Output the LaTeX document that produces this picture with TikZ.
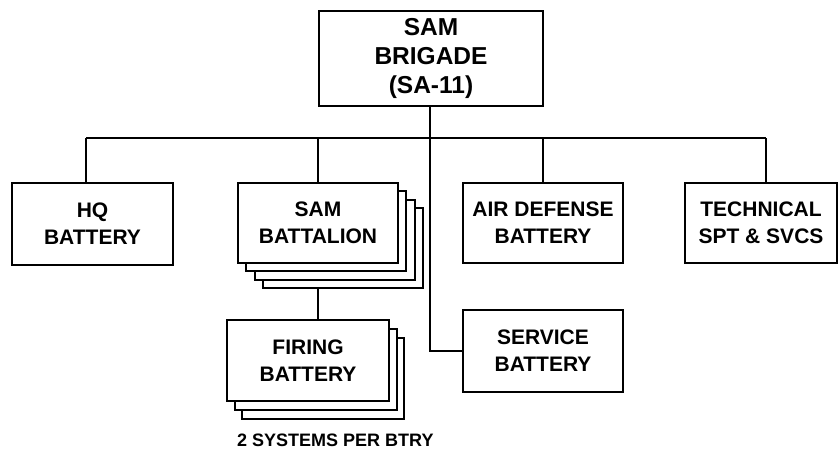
\documentclass[tikz,border=0pt]{standalone}
\usepackage{fontspec}
\setmainfont{Liberation Sans}
\begin{document}
\begin{tikzpicture}[x=1pt,y=-1pt,
  box/.style={draw, fill=white, line width=1.8pt, inner sep=0pt, align=center,
    font=\bfseries\fontsize{21}{27}\selectfont},
  bigbox/.style={box, font=\bfseries\fontsize{24.5}{29}\selectfont},
  link/.style={draw, line width=1.8pt}]
\useasboundingbox (0,0) rectangle (838,450);

% top
\node[bigbox, minimum width=224pt, minimum height=95pt] (top) at (431,58.5) {SAM\\BRIGADE\\(SA-11)};

% first row
\node[box, minimum width=161pt, minimum height=82pt] (hq) at (92.5,224) {HQ\\BATTERY};
\node[box, minimum width=160pt, minimum height=80pt] (bat3) at (343,248) {};
\node[box, minimum width=160pt, minimum height=80pt] (bat2) at (335,240) {};
\node[box, minimum width=160pt, minimum height=80pt] (bat1) at (326,231) {};
\node[box, minimum width=160pt, minimum height=80pt] (bat) at (318,223) {SAM\\BATTALION};
\node[box, minimum width=160pt, minimum height=80pt] (ad) at (543,223) {AIR DEFENSE\\BATTERY};
\node[box, minimum width=152pt, minimum height=80pt] (tech) at (761,223) {TECHNICAL\\SPT \& SVCS};

% second row
\node[box, minimum width=162pt, minimum height=81pt] (fire2) at (323,378.5) {};
\node[box, minimum width=162pt, minimum height=81pt] (fire1) at (316,369.5) {};
\node[box, minimum width=162pt, minimum height=81pt] (fire) at (308,360.5) {FIRING\\BATTERY};
\node[box, minimum width=160pt, minimum height=82pt] (svc) at (543,351) {SERVICE\\BATTERY};

\node[anchor=base west, inner sep=0pt, font=\bfseries\fontsize{18}{18}\selectfont] (cap) at (237,446) {2 SYSTEMS PER BTRY};

% connectors
\coordinate (busL) at (86,138);
\coordinate (busR) at (766,138);
\coordinate (trunk) at (430,351);
\draw[link] (busL) -- (busR);
\draw[link] (top.south -| trunk) -- (trunk) -- (svc.west);
\draw[link] (busL) -- (busL |- hq.north);
\draw[link] (busR) -- (busR |- tech.north);
\draw[link] (bat.north) -- (bat.north |- busL);
\draw[link] (ad.north) -- (ad.north |- busL);
\draw[link] (bat.south |- bat3.south) -- (bat.south |- fire.north);
\end{tikzpicture}
\end{document}
